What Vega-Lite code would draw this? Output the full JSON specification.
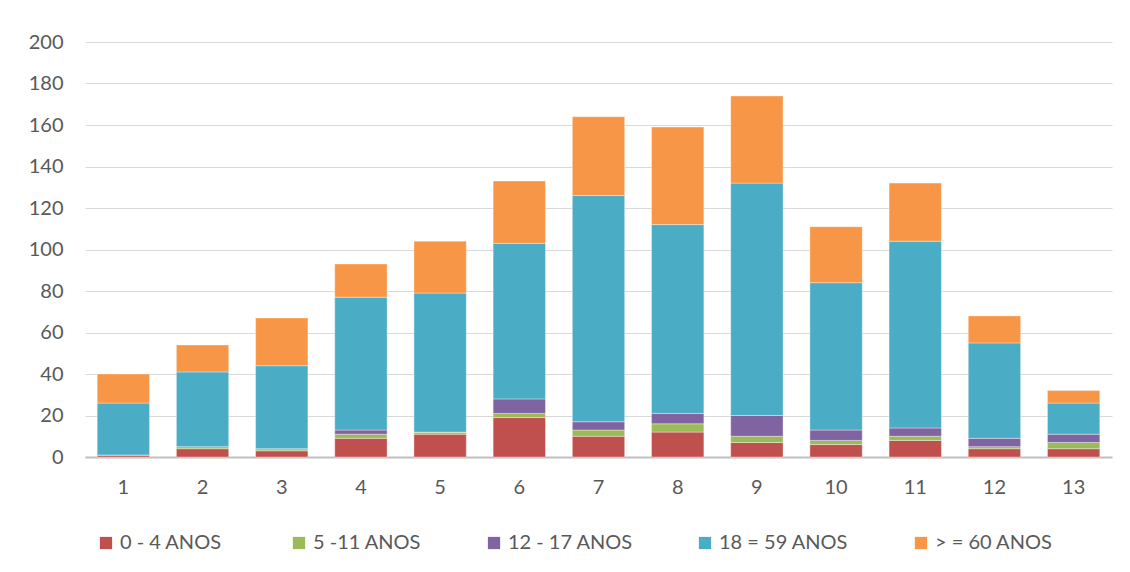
{
  "$schema": "https://vega.github.io/schema/vega-lite/v6.json",
  "autosize": "none",
  "width": 1027,
  "height": 415,
  "padding": {"left": 85, "top": 42, "right": 18, "bottom": 115},
  "background": "white",
  "config": {
    "view": {"stroke": null},
    "font": "Lato",
    "axis": {"labelFont": "Lato", "labelFontSize": 20, "labelColor": "#595959"},
    "legend": {"labelFont": "Lato", "labelFontSize": 20, "labelColor": "#595959"}
  },
  "data": {
    "values": [
      {"bar": 1, "group": "0 - 4  ANOS", "ord": 0, "value": 1},
      {"bar": 1, "group": "5 -11 ANOS", "ord": 1, "value": 0},
      {"bar": 1, "group": "12 - 17 ANOS", "ord": 2, "value": 0},
      {"bar": 1, "group": "18 = 59 ANOS", "ord": 3, "value": 25},
      {"bar": 1, "group": "> = 60 ANOS", "ord": 4, "value": 14},
      {"bar": 2, "group": "0 - 4  ANOS", "ord": 0, "value": 4},
      {"bar": 2, "group": "5 -11 ANOS", "ord": 1, "value": 1},
      {"bar": 2, "group": "12 - 17 ANOS", "ord": 2, "value": 0},
      {"bar": 2, "group": "18 = 59 ANOS", "ord": 3, "value": 36},
      {"bar": 2, "group": "> = 60 ANOS", "ord": 4, "value": 13},
      {"bar": 3, "group": "0 - 4  ANOS", "ord": 0, "value": 3},
      {"bar": 3, "group": "5 -11 ANOS", "ord": 1, "value": 1},
      {"bar": 3, "group": "12 - 17 ANOS", "ord": 2, "value": 0},
      {"bar": 3, "group": "18 = 59 ANOS", "ord": 3, "value": 40},
      {"bar": 3, "group": "> = 60 ANOS", "ord": 4, "value": 23},
      {"bar": 4, "group": "0 - 4  ANOS", "ord": 0, "value": 9},
      {"bar": 4, "group": "5 -11 ANOS", "ord": 1, "value": 2},
      {"bar": 4, "group": "12 - 17 ANOS", "ord": 2, "value": 2},
      {"bar": 4, "group": "18 = 59 ANOS", "ord": 3, "value": 64},
      {"bar": 4, "group": "> = 60 ANOS", "ord": 4, "value": 16},
      {"bar": 5, "group": "0 - 4  ANOS", "ord": 0, "value": 11},
      {"bar": 5, "group": "5 -11 ANOS", "ord": 1, "value": 1},
      {"bar": 5, "group": "12 - 17 ANOS", "ord": 2, "value": 0},
      {"bar": 5, "group": "18 = 59 ANOS", "ord": 3, "value": 67},
      {"bar": 5, "group": "> = 60 ANOS", "ord": 4, "value": 25},
      {"bar": 6, "group": "0 - 4  ANOS", "ord": 0, "value": 19},
      {"bar": 6, "group": "5 -11 ANOS", "ord": 1, "value": 2},
      {"bar": 6, "group": "12 - 17 ANOS", "ord": 2, "value": 7},
      {"bar": 6, "group": "18 = 59 ANOS", "ord": 3, "value": 75},
      {"bar": 6, "group": "> = 60 ANOS", "ord": 4, "value": 30},
      {"bar": 7, "group": "0 - 4  ANOS", "ord": 0, "value": 10},
      {"bar": 7, "group": "5 -11 ANOS", "ord": 1, "value": 3},
      {"bar": 7, "group": "12 - 17 ANOS", "ord": 2, "value": 4},
      {"bar": 7, "group": "18 = 59 ANOS", "ord": 3, "value": 109},
      {"bar": 7, "group": "> = 60 ANOS", "ord": 4, "value": 38},
      {"bar": 8, "group": "0 - 4  ANOS", "ord": 0, "value": 12},
      {"bar": 8, "group": "5 -11 ANOS", "ord": 1, "value": 4},
      {"bar": 8, "group": "12 - 17 ANOS", "ord": 2, "value": 5},
      {"bar": 8, "group": "18 = 59 ANOS", "ord": 3, "value": 91},
      {"bar": 8, "group": "> = 60 ANOS", "ord": 4, "value": 47},
      {"bar": 9, "group": "0 - 4  ANOS", "ord": 0, "value": 7},
      {"bar": 9, "group": "5 -11 ANOS", "ord": 1, "value": 3},
      {"bar": 9, "group": "12 - 17 ANOS", "ord": 2, "value": 10},
      {"bar": 9, "group": "18 = 59 ANOS", "ord": 3, "value": 112},
      {"bar": 9, "group": "> = 60 ANOS", "ord": 4, "value": 42},
      {"bar": 10, "group": "0 - 4  ANOS", "ord": 0, "value": 6},
      {"bar": 10, "group": "5 -11 ANOS", "ord": 1, "value": 2},
      {"bar": 10, "group": "12 - 17 ANOS", "ord": 2, "value": 5},
      {"bar": 10, "group": "18 = 59 ANOS", "ord": 3, "value": 71},
      {"bar": 10, "group": "> = 60 ANOS", "ord": 4, "value": 27},
      {"bar": 11, "group": "0 - 4  ANOS", "ord": 0, "value": 8},
      {"bar": 11, "group": "5 -11 ANOS", "ord": 1, "value": 2},
      {"bar": 11, "group": "12 - 17 ANOS", "ord": 2, "value": 4},
      {"bar": 11, "group": "18 = 59 ANOS", "ord": 3, "value": 90},
      {"bar": 11, "group": "> = 60 ANOS", "ord": 4, "value": 28},
      {"bar": 12, "group": "0 - 4  ANOS", "ord": 0, "value": 4},
      {"bar": 12, "group": "5 -11 ANOS", "ord": 1, "value": 1},
      {"bar": 12, "group": "12 - 17 ANOS", "ord": 2, "value": 4},
      {"bar": 12, "group": "18 = 59 ANOS", "ord": 3, "value": 46},
      {"bar": 12, "group": "> = 60 ANOS", "ord": 4, "value": 13},
      {"bar": 13, "group": "0 - 4  ANOS", "ord": 0, "value": 4},
      {"bar": 13, "group": "5 -11 ANOS", "ord": 1, "value": 3},
      {"bar": 13, "group": "12 - 17 ANOS", "ord": 2, "value": 4},
      {"bar": 13, "group": "18 = 59 ANOS", "ord": 3, "value": 15},
      {"bar": 13, "group": "> = 60 ANOS", "ord": 4, "value": 6}
    ]
  },
  "mark": {"type": "bar", "stroke": "white", "strokeWidth": 0.6, "strokeOpacity": 0.6},
  "encoding": {
    "x": {
      "field": "bar",
      "type": "ordinal",
      "scale": {"paddingInner": 0.339, "paddingOuter": 0.154},
      "axis": {
        "title": null,
        "labelAngle": 0,
        "ticks": false,
        "labelPadding": 20,
        "domainColor": "#BFBFBF",
        "domainWidth": 2
      }
    },
    "y": {
      "field": "value",
      "type": "quantitative",
      "stack": "zero",
      "scale": {"domain": [0, 200], "nice": false},
      "axis": {
        "title": null,
        "values": [0, 20, 40, 60, 80, 100, 120, 140, 160, 180, 200],
        "domain": false,
        "ticks": false,
        "labelPadding": 22,
        "gridColor": "#D9D9D9",
        "gridWidth": 1
      }
    },
    "color": {
      "field": "group",
      "type": "nominal",
      "scale": {
        "domain": ["0 - 4  ANOS", "5 -11 ANOS", "12 - 17 ANOS", "18 = 59 ANOS", "> = 60 ANOS"],
        "range": ["#C0504D", "#9BBB59", "#8064A2", "#4BACC6", "#F79646"]
      },
      "legend": {
        "title": null,
        "orient": "none",
        "legendX": 11,
        "legendY": 491,
        "direction": "horizontal",
        "columns": 5,
        "columnPadding": 62,
        "symbolType": "square",
        "symbolSize": 150,
        "symbolStrokeWidth": 0,
        "symbolOffset": 0,
        "labelOffset": 4
      }
    },
    "order": {"field": "ord", "type": "quantitative"}
  }
}
